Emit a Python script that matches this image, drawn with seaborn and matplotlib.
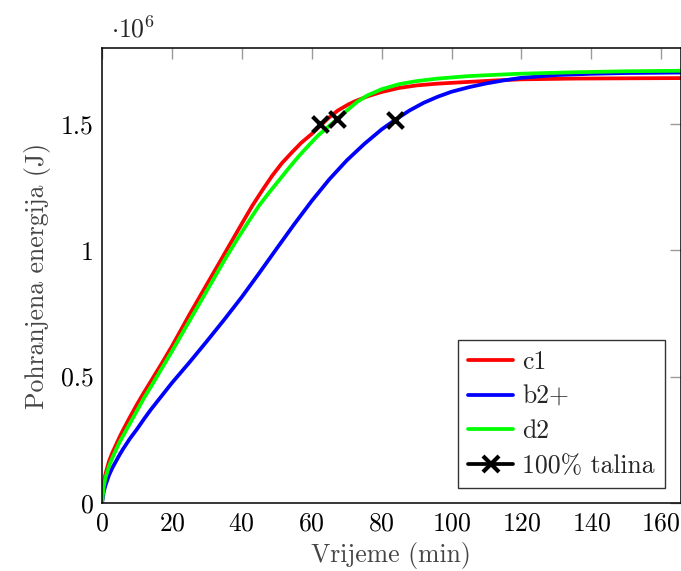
import numpy as np
import pandas as pd
import matplotlib
matplotlib.use("Agg")
import matplotlib.pyplot as plt
import seaborn as sns
from matplotlib.lines import Line2D
from matplotlib.ticker import FuncFormatter

# ---- data (energy in units of 1e6 J) ----
t_c1 = [0, 0.5, 1, 2, 3, 4, 5, 6, 8, 10, 12, 14, 17, 20, 25, 30, 35, 40, 43,
        46, 48.7, 51.5, 54.4, 57, 60, 62.4, 64.8, 67.5, 70.5, 72.3, 76, 80,
        85, 90, 96, 105, 113, 120, 135, 150, 166]
e_c1 = [0, 0.08, 0.115, 0.165, 0.2, 0.23, 0.26, 0.288, 0.34, 0.39, 0.437,
        0.482, 0.55, 0.62, 0.745, 0.865, 0.985, 1.105, 1.176, 1.24, 1.295,
        1.345, 1.388, 1.425, 1.46, 1.492, 1.523, 1.553, 1.577, 1.589, 1.609,
        1.626, 1.642, 1.652, 1.659, 1.666, 1.672, 1.676, 1.679, 1.68, 1.681]

t_b2 = [0, 0.5, 1, 2, 3, 4, 5, 6, 8, 10, 12, 14, 16, 18, 20, 25, 30, 35, 40,
        45, 50, 55, 60, 65, 70, 75, 80, 84, 88, 92, 96, 100, 105, 110, 115,
        120, 130, 140, 150, 166]
e_b2 = [0, 0.045, 0.07, 0.11, 0.14, 0.165, 0.19, 0.213, 0.255, 0.292, 0.332,
        0.37, 0.405, 0.44, 0.475, 0.556, 0.64, 0.726, 0.815, 0.91, 1.007,
        1.103, 1.195, 1.28, 1.355, 1.42, 1.478, 1.517, 1.553, 1.583, 1.607,
        1.627, 1.645, 1.66, 1.672, 1.682, 1.693, 1.698, 1.701, 1.703]

t_d2 = [0, 0.5, 1, 2, 3, 4, 5, 6, 8, 10, 12, 14, 17, 20, 25, 30, 35, 38.7,
        42, 44.9, 47.8, 50.6, 53.5, 56.3, 59, 61.9, 65.7, 67.1, 70, 73, 76,
        80, 85, 90, 96, 105, 119, 135, 150, 166]
e_d2 = [0, 0.065, 0.1, 0.145, 0.18, 0.21, 0.24, 0.265, 0.315, 0.365, 0.415,
        0.46, 0.53, 0.6, 0.72, 0.84, 0.96, 1.044, 1.115, 1.176, 1.228, 1.276,
        1.326, 1.372, 1.413, 1.455, 1.5, 1.517, 1.552, 1.587, 1.613, 1.637,
        1.657, 1.669, 1.679, 1.689, 1.698, 1.704, 1.708, 1.71]

melt_t = [62.4, 83.9, 67.1]
melt_e = [1.5, 1.517, 1.52]

series_names = ["c1", "b2+", "d2"]
colors = {"c1": "#ff0000", "b2+": "#0000ff", "d2": "#00ff00"}

df = pd.concat([
    pd.DataFrame({"t": t_c1, "E": e_c1, "s": "c1"}),
    pd.DataFrame({"t": t_b2, "E": e_b2, "s": "b2+"}),
    pd.DataFrame({"t": t_d2, "E": e_d2, "s": "d2"}),
], ignore_index=True)
dm = pd.DataFrame({"t": melt_t, "E": melt_e})

sns.set_theme(style="white")
plt.rcParams.update({
    "font.family": ["cmr10", "DejaVu Serif"],
    "mathtext.fontset": "cm",
    "axes.unicode_minus": False,
    "axes.formatter.use_mathtext": True,
})

FS = 18.5

fig = plt.figure(figsize=(6.81, 5.71), dpi=100)
ax = fig.add_axes([102 / 681, 68 / 571, 578.5 / 681, 455 / 571])

sns.lineplot(data=df, x="t", y="E", hue="s", hue_order=series_names,
             palette=colors, estimator=None, sort=False, linewidth=2.7,
             legend=False, ax=ax)
sns.scatterplot(data=dm, x="t", y="E", marker="x", s=130, color="black",
                linewidth=3.0, zorder=5, legend=False, ax=ax)

ax.set_xlim(0, 165.5)
ax.set_ylim(0, 1.8)
ax.set_xticks(np.arange(0, 161, 20))
ax.set_yticks([0, 0.5, 1.0, 1.5])
ax.yaxis.set_major_formatter(FuncFormatter(lambda v, p: f"{v:g}"))
ax.tick_params(direction="in", length=8, width=1, color="#9a9a9a",
               top=True, right=True, labelsize=FS, pad=6, labelcolor="black")
for sp in ax.spines.values():
    sp.set_color("black")
    sp.set_linewidth(1.1)

ax.set_xlabel("Vrijeme (min)", fontsize=FS, color="#444444", labelpad=5)
ax.set_ylabel("Pohranjena energija (J)", fontsize=FS, color="#444444",
              labelpad=7)

fig.text(111 / 681, (571 - 37) / 571, r"$\cdot 10^{6}$", fontsize=FS,
         va="baseline", ha="left")

handles = [Line2D([], [], color=colors[n], lw=2.7) for n in series_names]
handles.append(Line2D([], [], color="black", lw=2.7, marker="x",
                      markersize=11, markeredgewidth=3))
leg = ax.legend(handles, series_names + ["100% talina"], loc="lower right",
                bbox_to_anchor=(0.973, 0.033), borderaxespad=0, fontsize=FS,
                frameon=True, fancybox=False, edgecolor="black",
                handlelength=1.75, handletextpad=0.35, labelspacing=0.42,
                borderpad=0.4)
leg.get_frame().set_linewidth(1.0)

fig.savefig("out.png", dpi=100)
